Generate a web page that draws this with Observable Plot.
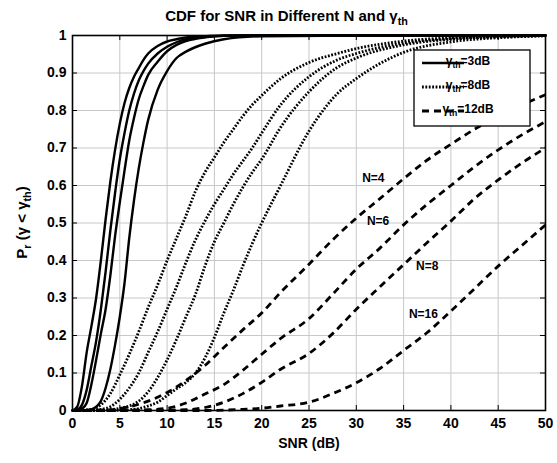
<!DOCTYPE html>
<html><head><meta charset="utf-8">
<script src="https://cdn.jsdelivr.net/npm/d3@7"></script>
<script src="https://cdn.jsdelivr.net/npm/@observablehq/plot@0.6"></script>
<style>body{margin:0;background:#fff;} svg{display:block}</style>
</head><body><div id="chart"></div>
<script>
// ---------- data ----------
const xTicks = [0,5,10,15,20,25,30,35,40,45,50];
const yTicks = [0,0.1,0.2,0.3,0.4,0.5,0.6,0.7,0.8,0.9,1];
const nValues = [4,6,8,16];

// gamma_th = 3 dB (solid)
const solidX   = [0,0.5,1,1.5,2,2.5,3,3.5,4,4.5,5,5.5,6,6.5,7,7.5,8,9,10,11,12,14,16,20,30,40,50];
const solidN4  = [0,0.01,0.065,0.155,0.225,0.30,0.40,0.51,0.61,0.695,0.765,0.82,0.86,0.89,0.913,0.935,0.952,0.972,0.984,0.99,0.995,0.998,1,1,1,1,1];
const solidN6  = [0,0.002,0.015,0.055,0.12,0.185,0.27,0.37,0.48,0.58,0.67,0.74,0.80,0.845,0.88,0.905,0.925,0.952,0.97,0.982,0.99,0.996,0.999,1,1,1,1];
const solidN8  = [0,0,0.005,0.02,0.07,0.135,0.205,0.27,0.36,0.465,0.555,0.64,0.72,0.78,0.83,0.865,0.895,0.93,0.958,0.975,0.985,0.995,0.999,1,1,1,1];
const solidN16 = [0,0,0,0.001,0.003,0.01,0.025,0.06,0.11,0.175,0.25,0.34,0.46,0.56,0.645,0.715,0.775,0.855,0.905,0.94,0.957,0.978,0.99,0.998,1,1,1];

// gamma_th = 8 dB (dotted)
const dottedX   = [0,2,3,4,5,6,7,8,9,10,11,12,13,14,15,16,17,18,19,20,22,25,28,30,35,40,45,50];
const dottedN4  = [0,0.003,0.015,0.045,0.095,0.15,0.21,0.275,0.335,0.40,0.46,0.52,0.585,0.635,0.675,0.715,0.75,0.785,0.815,0.84,0.885,0.928,0.952,0.965,0.985,0.994,0.998,1];
const dottedN6  = [0,0,0.003,0.01,0.03,0.06,0.10,0.155,0.21,0.27,0.33,0.395,0.455,0.505,0.55,0.59,0.63,0.665,0.70,0.74,0.815,0.89,0.935,0.952,0.98,0.992,0.997,1];
const dottedN8  = [0,0,0,0.002,0.006,0.012,0.025,0.05,0.088,0.135,0.19,0.25,0.31,0.385,0.45,0.50,0.55,0.595,0.635,0.67,0.755,0.85,0.915,0.94,0.975,0.99,0.996,1];
const dottedN16 = [0,0,0,0,0.001,0.002,0.005,0.012,0.022,0.04,0.058,0.075,0.10,0.14,0.195,0.26,0.32,0.385,0.445,0.50,0.60,0.745,0.845,0.885,0.955,0.983,0.994,0.999];

// gamma_th = 12 dB (dashed)
const dashedX   = [0,4,6,8,10,12,14,16,18,20,22,25,27.5,30,32.5,35,37.5,40,42.5,45,47.5,50];
const dashedN4  = [0,0.002,0.01,0.025,0.048,0.08,0.12,0.168,0.215,0.26,0.315,0.39,0.455,0.513,0.565,0.618,0.668,0.71,0.75,0.785,0.815,0.842];
const dashedN6  = [0,0,0.001,0.002,0.006,0.02,0.044,0.069,0.107,0.15,0.192,0.245,0.31,0.377,0.433,0.495,0.55,0.60,0.65,0.695,0.735,0.77];
const dashedN8  = [0,0,0,0,0.001,0.002,0.008,0.022,0.045,0.075,0.11,0.152,0.205,0.27,0.33,0.389,0.448,0.505,0.565,0.615,0.66,0.70];
const dashedN16 = [0,0,0,0,0,0,0,0.001,0.003,0.006,0.012,0.022,0.045,0.074,0.112,0.16,0.208,0.265,0.325,0.385,0.44,0.495];

// curve annotations
const annText = ["N=4","N=6","N=8","N=16"];
const annX    = [31.8,32.3,37.5,37.1];
const annY    = [0.619,0.504,0.384,0.256];

// ---------- build tables ----------
const groups = [
  {g:"3dB",  xs: solidX,  ys: [solidN4, solidN6, solidN8, solidN16]},
  {g:"8dB",  xs: dottedX, ys: [dottedN4, dottedN6, dottedN8, dottedN16]},
  {g:"12dB", xs: dashedX, ys: [dashedN4, dashedN6, dashedN8, dashedN16]}
];
const rows = groups.flatMap(G => G.ys.flatMap((arr, i) => arr.map((p, j) => ({g: G.g, N: nValues[i], snr: G.xs[j], p}))));
const ann = annText.map((t, i) => ({t, x: annX[i], y: annY[i]}));

// ---------- layout ----------
const W = 557, H = 463, mL = 72, mR = 12, mT = 35, mB = 53;
const pw = W - mL - mR, ph = H - mT - mB;
const FONT = "'Liberation Sans', Arial, Helvetica, sans-serif";
const fmtY = d => String(+d.toFixed(1));
const DOT = "1.8,1.6", DASH = "7,5";

const chart = Plot.plot({
  width: W, height: H,
  marginLeft: mL, marginRight: mR, marginTop: mT, marginBottom: mB,
  style: {fontFamily: FONT, background: "white", color: "black"},
  x: {domain: [0, 50]},
  y: {domain: [0, 1]},
  marks: [
    Plot.gridX(xTicks, {stroke: "#c8c8c8", strokeOpacity: 1, strokeWidth: 1}),
    Plot.gridY(yTicks, {stroke: "#c8c8c8", strokeOpacity: 1, strokeWidth: 1}),
    Plot.axisX(xTicks, {tickSize: 0, tickPadding: 8, fontSize: 14, fontWeight: "bold", label: null, tickFormat: d => String(d)}),
    Plot.axisY(yTicks, {tickSize: 0, tickPadding: 6, fontSize: 14, fontWeight: "bold", label: null, tickFormat: fmtY}),
    // inward ticks on all four sides
    Plot.tickX(xTicks, {x: d => d, insetTop: ph - 5, stroke: "black"}),
    Plot.tickX(xTicks, {x: d => d, insetBottom: ph - 5, stroke: "black"}),
    Plot.tickY(yTicks, {y: d => d, insetRight: pw - 5, stroke: "black"}),
    Plot.tickY(yTicks, {y: d => d, insetLeft: pw - 5, stroke: "black"}),
    Plot.line(rows.filter(d => d.g === "8dB"), {x: "snr", y: "p", z: "N", stroke: "black", strokeWidth: 2.8, strokeDasharray: DOT, strokeLinecap: "butt", curve: "monotone-x"}),
    Plot.line(rows.filter(d => d.g === "12dB"), {x: "snr", y: "p", z: "N", stroke: "black", strokeWidth: 2.8, strokeDasharray: DASH, strokeLinecap: "butt", curve: "monotone-x"}),
    Plot.line(rows.filter(d => d.g === "3dB"), {x: "snr", y: "p", z: "N", stroke: "black", strokeWidth: 2.4, curve: "monotone-x"}),
    Plot.frame({stroke: "black", strokeWidth: 1.6}),
    Plot.text(ann, {x: "x", y: "y", text: "t", fontSize: 12, fontWeight: "bold", fill: "black"}),
    Plot.text(["SNR (dB)"], {frameAnchor: "bottom", dy: 37, fontSize: 14, fontWeight: "bold", fill: "black"})
  ]
});
document.getElementById("chart").appendChild(chart);

// ---------- title, y label, legend (rich text with subscripts) ----------
const svg = d3.select(chart);
function richText(g, parts) {
  let prevSub = false;
  parts.forEach(([txt, sub]) => {
    const ts = g.append("tspan").text(txt);
    if (sub && !prevSub) ts.attr("font-size", "0.72em").attr("dy", "0.4em");
    else if (!sub && prevSub) ts.attr("dy", "-0.3em");
    prevSub = sub;
  });
}

const title = svg.append("text")
  .attr("x", mL + pw / 2 - 22).attr("y", 21)
  .attr("text-anchor", "middle")
  .attr("font-family", FONT).attr("font-size", 15).attr("font-weight", "bold").attr("fill", "black");
richText(title, [["CDF for SNR in Different N and γ", false], ["th", true]]);

const ylab = svg.append("text")
  .attr("transform", `translate(27,${mT + ph / 2}) rotate(-90)`)
  .attr("text-anchor", "middle")
  .attr("font-family", FONT).attr("font-size", 15).attr("font-weight", "bold").attr("fill", "black");
richText(ylab, [["P", false], ["r", true], [" (γ < γ", false], ["th", true], [")", false]]);

// legend box in top-right corner of the frame
const lx = mL + pw - 131, ly = mT + 15, lw = 116, lh = 76;
const leg = svg.append("g").attr("font-family", FONT);
leg.append("rect").attr("x", lx).attr("y", ly).attr("width", lw).attr("height", lh)
  .attr("fill", "white").attr("stroke", "black").attr("stroke-width", 1.3);
const legStyles = [
  {dash: null, w: 2.4},
  {dash: DOT, w: 2.8},
  {dash: DASH, w: 2.8}
];
groups.forEach((G, i) => {
  const yy = ly + 13 + i * 24;
  const ln = leg.append("line").attr("x1", lx + 8).attr("x2", lx + 50).attr("y1", yy).attr("y2", yy)
    .attr("stroke", "black").attr("stroke-width", legStyles[i].w).attr("stroke-linecap", "butt");
  if (legStyles[i].dash) ln.attr("stroke-dasharray", legStyles[i].dash);
  const t = leg.append("text").attr("x", lx + 54).attr("y", yy + 2)
    .attr("font-size", 12).attr("font-weight", "bold").attr("fill", "black");
  richText(t, [["γ", false], ["th", true], ["=" + G.g, false]]);
});
</script>
</body></html>
